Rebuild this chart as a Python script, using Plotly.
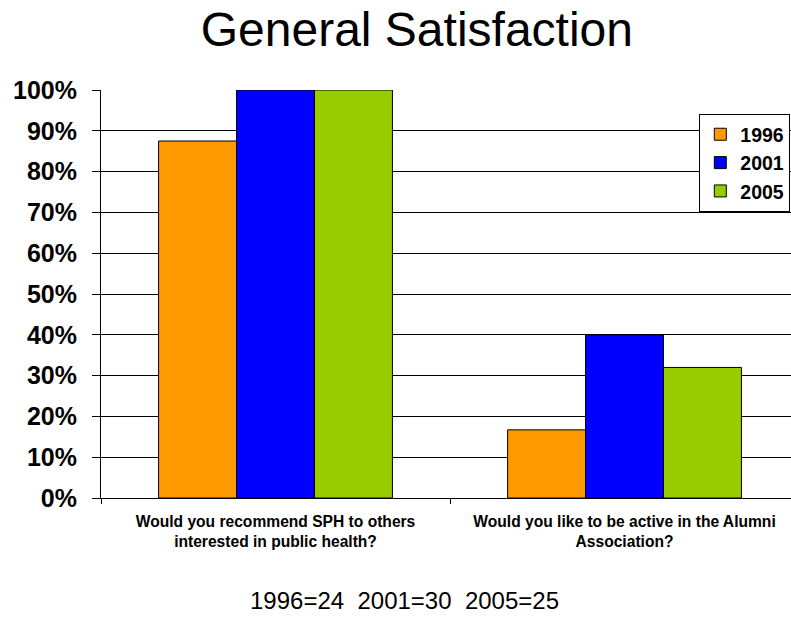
import plotly.graph_objects as go

categories = ["Would you recommend SPH to others<br>interested in public health?",
              "Would you like to be active in the Alumni<br>Association?"]
years = ["1996", "2001", "2005"]
values_1996 = [0.875, 0.167]
values_2001 = [1.00, 0.40]
values_2005 = [1.00, 0.32]
colors = ["#FF9900", "#0000FF", "#99CC00"]

font_family = "Liberation Sans, Arial, sans-serif"

fig = go.Figure()
for name, vals, col in zip(years, [values_1996, values_2001, values_2005], colors):
    fig.add_trace(go.Bar(x=categories, y=vals, name=name,
                         marker=dict(color=col, line=dict(color="black", width=1))))

fig.update_layout(
    width=791, height=618,
    margin=dict(l=101, r=0, t=90, b=120),
    paper_bgcolor="white", plot_bgcolor="white",
    barmode="group", bargap=0.33, bargroupgap=0,
    font=dict(family=font_family, color="black"),
    title=dict(text="General Satisfaction", x=0.527, xanchor="center",
               y=0.953, yanchor="middle", font=dict(size=48, color="black")),
    legend=dict(x=0.999, y=0.941, xanchor="right", yanchor="top",
                bgcolor="white", bordercolor="black", borderwidth=1,
                font=dict(size=19.5, color="black", weight="bold")),
    annotations=[dict(text="1996=24  2001=30  2005=25", xref="paper", yref="paper",
                      x=0.44, y=-0.252, xanchor="center", yanchor="middle",
                      showarrow=False, font=dict(size=24, color="black"))],
)
fig.update_yaxes(range=[0, 1], dtick=0.1, tickformat=".0%",
                 showgrid=True, gridcolor="black", gridwidth=1,
                 showline=True, linecolor="black", linewidth=1,
                 ticks="outside", ticklen=8, tickcolor="black",
                 ticklabelstandoff=10, zeroline=False,
                 tickfont=dict(size=25, color="black", weight="bold"))
fig.update_xaxes(type="category", range=[-0.5, 1.477],
                 showline=True, linecolor="black", linewidth=1,
                 ticks="outside", tickson="boundaries", ticklen=5, tickcolor="black",
                 ticklabelstandoff=9,
                 tickfont=dict(size=15.6, color="black", weight="bold"))

# page body has a default margin; drop it so the figure fills the window
fig.write_html("out.html", config={"displayModeBar": False},
               post_script="document.body.style.margin='0';")
